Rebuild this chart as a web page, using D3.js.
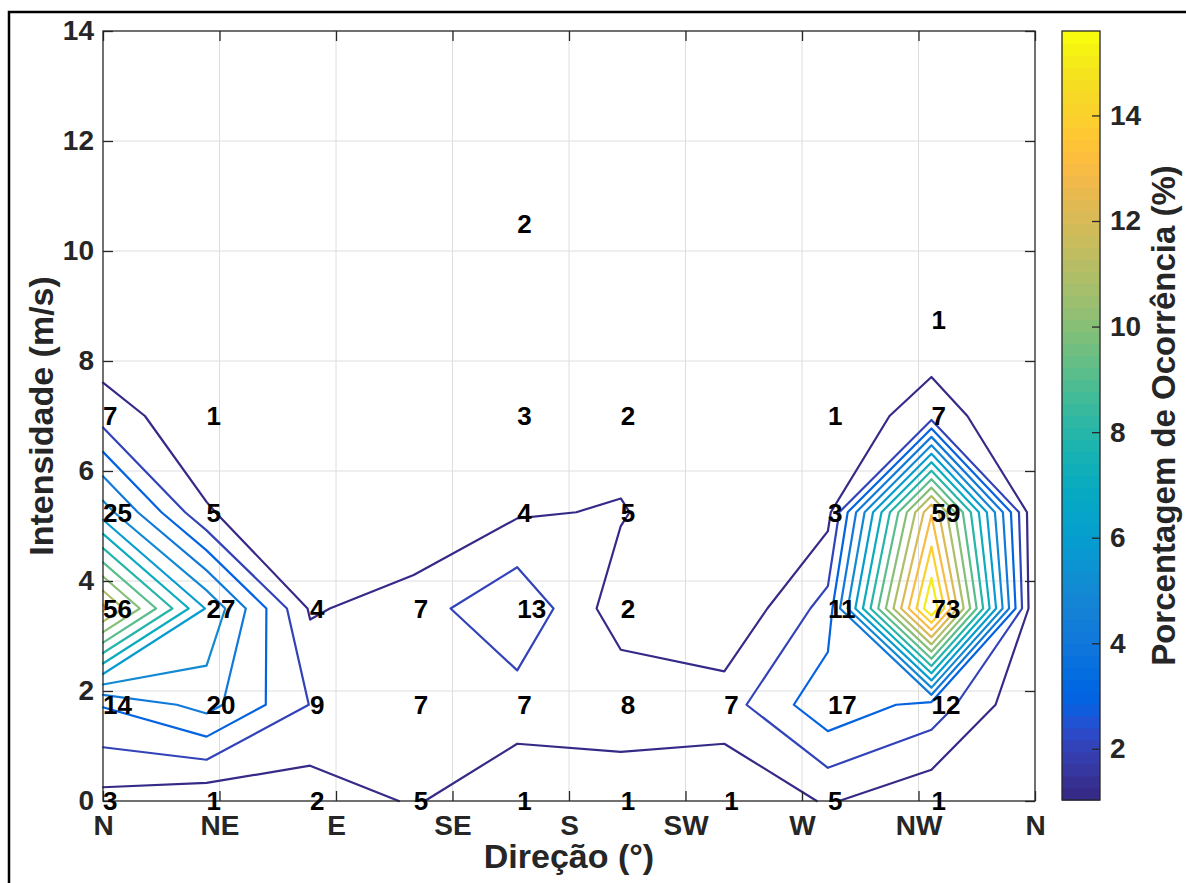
<!DOCTYPE html>
<html>
<head>
<meta charset="utf-8">
<script src="https://cdn.jsdelivr.net/npm/d3@7"></script>
<style>
  html, body { margin: 0; padding: 0; background: #fff; }
  svg { display: block; }
  text { font-family: "Liberation Sans", Arial, Helvetica, sans-serif; font-weight: bold; }
</style>
</head>
<body>
<svg id="chart" width="1186" height="883"></svg>
<script>
// Direction bins (degrees) and wind-speed bins (m/s) of the occurrence grid
const directions = [0, 40, 80, 120, 160, 200, 240, 280, 320, 360];
const speeds = [0, 1.75, 3.5, 5.25, 7, 8.75, 10.5, 12.25];

// Number of records per direction bin, one array per speed bin
const countsAt0 = [3, 1, 2, 5, 1, 1, 1, 5, 1, 0];
const countsAt175 = [14, 20, 9, 7, 7, 8, 7, 17, 12, 0];
const countsAt350 = [56, 27, 4, 7, 13, 2, 0, 11, 73, 0];
const countsAt525 = [25, 5, 0, 0, 4, 5, 0, 3, 59, 0];
const countsAt700 = [7, 1, 0, 0, 3, 2, 0, 1, 7, 0];
const countsAt875 = [0, 0, 0, 0, 0, 0, 0, 0, 1, 0];
const countsAt1050 = [0, 0, 0, 0, 2, 0, 0, 0, 0, 0];
const countsAt1225 = [0, 0, 0, 0, 0, 0, 0, 0, 0, 0];
const totalRecords = 457;

// Axis ticks
const xTickValues = [0, 45, 90, 135, 180, 225, 270, 315, 360];
const xTickLabels = ["N", "NE", "E", "SE", "S", "SW", "W", "NW", "N"];
const yTickValues = [0, 2, 4, 6, 8, 10, 12, 14];
const colorTickValues = [2, 4, 6, 8, 10, 12, 14];

// Contour levels (% of occurrence) and colour limits of the colour bar
const contourLevels = [1, 2, 3, 4, 5, 6, 7, 8, 9, 10, 11, 12, 13, 14, 15];
const colorLimits = [1.03, 15.6];

// parula, 64 entries
const parula = [
  [0.2081,0.1663,0.5292],[0.2116,0.1898,0.5777],[0.2123,0.2138,0.6270],[0.2081,0.2386,0.6771],
  [0.1959,0.2645,0.7279],[0.1707,0.2919,0.7792],[0.1253,0.3242,0.8303],[0.0591,0.3598,0.8683],
  [0.0117,0.3875,0.8820],[0.0060,0.4086,0.8828],[0.0165,0.4266,0.8786],[0.0329,0.4430,0.8720],
  [0.0498,0.4586,0.8641],[0.0629,0.4737,0.8554],[0.0723,0.4887,0.8467],[0.0779,0.5040,0.8384],
  [0.0793,0.5200,0.8312],[0.0749,0.5375,0.8263],[0.0641,0.5570,0.8240],[0.0488,0.5772,0.8228],
  [0.0343,0.5966,0.8199],[0.0265,0.6137,0.8135],[0.0239,0.6287,0.8038],[0.0231,0.6418,0.7913],
  [0.0228,0.6535,0.7768],[0.0267,0.6642,0.7607],[0.0384,0.6743,0.7436],[0.0590,0.6838,0.7254],
  [0.0843,0.6928,0.7062],[0.1133,0.7015,0.6859],[0.1453,0.7098,0.6646],[0.1801,0.7177,0.6424],
  [0.2178,0.7250,0.6193],[0.2586,0.7317,0.5954],[0.3022,0.7376,0.5712],[0.3482,0.7424,0.5473],
  [0.3953,0.7459,0.5244],[0.4420,0.7481,0.5033],[0.4871,0.7491,0.4840],[0.5300,0.7491,0.4661],
  [0.5709,0.7485,0.4494],[0.6099,0.7473,0.4337],[0.6473,0.7456,0.4188],[0.6834,0.7435,0.4044],
  [0.7184,0.7411,0.3905],[0.7525,0.7384,0.3768],[0.7858,0.7356,0.3633],[0.8185,0.7327,0.3498],
  [0.8507,0.7299,0.3360],[0.8824,0.7274,0.3217],[0.9139,0.7258,0.3063],[0.9450,0.7261,0.2886],
  [0.9739,0.7314,0.2666],[0.9938,0.7455,0.2403],[0.9990,0.7653,0.2164],[0.9955,0.7861,0.1967],
  [0.9880,0.8066,0.1794],[0.9789,0.8271,0.1633],[0.9697,0.8481,0.1475],[0.9626,0.8705,0.1309],
  [0.9589,0.8949,0.1132],[0.9598,0.9218,0.0948],[0.9661,0.9514,0.0755],[0.9763,0.9831,0.0538]
].map(c => d3.rgb(c[0] * 255, c[1] * 255, c[2] * 255).formatHex());

const countGrid = [countsAt0, countsAt175, countsAt350, countsAt525,
                   countsAt700, countsAt875, countsAt1050, countsAt1225];
const percentGrid = countGrid.map(row => row.map(c => c / totalRecords * 100));

function levelColor(v) {
  const t = (v - colorLimits[0]) / (colorLimits[1] - colorLimits[0]);
  const i = Math.max(0, Math.min(parula.length - 1, Math.floor(t * parula.length)));
  return parula[i];
}

// Marching squares: open/closed iso-lines in data coordinates
function isolines(grid, level) {
  const ny = grid.length, nx = grid[0].length;
  const segs = [];
  const cross = (i0, j0, i1, j1) => {
    const v0 = grid[j0][i0], v1 = grid[j1][i1];
    const t = (level - v0) / (v1 - v0);
    const key = i0 === i1 ? `v${i0}_${Math.min(j0, j1)}` : `h${Math.min(i0, i1)}_${j0}`;
    return {
      key,
      dir: directions[i0] + t * (directions[i1] - directions[i0]),
      spd: speeds[j0] + t * (speeds[j1] - speeds[j0])
    };
  };
  for (let j = 0; j < ny - 1; j++) {
    for (let i = 0; i < nx - 1; i++) {
      const a = grid[j][i], b = grid[j][i + 1], c = grid[j + 1][i + 1], d = grid[j + 1][i];
      const A = a >= level, B = b >= level, C = c >= level, D = d >= level;
      const e = [];
      if (A !== B) e[0] = cross(i, j, i + 1, j);
      if (B !== C) e[1] = cross(i + 1, j, i + 1, j + 1);
      if (C !== D) e[2] = cross(i + 1, j + 1, i, j + 1);
      if (D !== A) e[3] = cross(i, j + 1, i, j);
      const found = [0, 1, 2, 3].filter(k => e[k]);
      if (found.length === 2) {
        segs.push([e[found[0]], e[found[1]]]);
      } else if (found.length === 4) {
        const centreHigh = (a + b + c + d) / 4 >= level;
        if ((A && C) === centreHigh) segs.push([e[0], e[1]], [e[2], e[3]]);
        else segs.push([e[3], e[0]], [e[1], e[2]]);
      }
    }
  }
  const byKey = new Map();
  segs.forEach((s, idx) => s.forEach(p => {
    if (!byKey.has(p.key)) byKey.set(p.key, []);
    byKey.get(p.key).push(idx);
  }));
  const minDeg = idx => Math.min(byKey.get(segs[idx][0].key).length, byKey.get(segs[idx][1].key).length);
  const order = segs.map((s, i) => i).sort((p, q) => minDeg(p) - minDeg(q));
  const used = new Array(segs.length).fill(false);
  const lines = [];
  for (const idx of order) {
    if (used[idx]) continue;
    used[idx] = true;
    const s = segs[idx];
    const line = byKey.get(s[1].key).length === 1 ? [s[1], s[0]] : [s[0], s[1]];
    let cur = line[line.length - 1];
    for (;;) {
      const next = byKey.get(cur.key).find(k => !used[k]);
      if (next === undefined) break;
      used[next] = true;
      const ns = segs[next];
      const np = ns[0].key === cur.key ? ns[1] : ns[0];
      line.push(np);
      cur = np;
    }
    lines.push(line);
  }
  return lines;
}

const svg = d3.select("#chart");
const plot = { left: 103, right: 1035, top: 31, bottom: 801 };
const cbar = { left: 1062, right: 1100, top: 31, bottom: 800 };
const axisColor = "#262626";

const x = d3.scaleLinear().domain([0, 360]).range([plot.left, plot.right]);
const y = d3.scaleLinear().domain([0, 14]).range([plot.bottom, plot.top]);
const cScale = d3.scaleLinear().domain(colorLimits).range([cbar.bottom, cbar.top]);

// Figure frame
svg.append("path")
  .attr("d", "M9,900 L9,12 L1200,12")
  .attr("fill", "none").attr("stroke", "#000").attr("stroke-width", 2.5);

// Axes background and grid
svg.append("rect")
  .attr("x", plot.left).attr("y", plot.top)
  .attr("width", plot.right - plot.left).attr("height", plot.bottom - plot.top)
  .attr("fill", "#fff");

const grid = svg.append("g").attr("stroke", "#dedede").attr("stroke-width", 1);
grid.selectAll("line.gx").data(xTickValues.slice(1, -1)).join("line")
  .attr("x1", d => x(d)).attr("x2", d => x(d))
  .attr("y1", plot.top).attr("y2", plot.bottom);
grid.selectAll("line.gy").data(yTickValues.slice(1, -1)).join("line")
  .attr("x1", plot.left).attr("x2", plot.right)
  .attr("y1", d => y(d)).attr("y2", d => y(d));

// Contour lines
const lineGen = d3.line().x(p => x(p.dir)).y(p => y(p.spd));
const contourG = svg.append("g")
  .attr("fill", "none").attr("stroke-width", 2.2)
  .attr("stroke-linejoin", "round").attr("stroke-linecap", "round");
contourLevels.forEach(level => {
  isolines(percentGrid, level).forEach(line => {
    contourG.append("path")
      .attr("d", lineGen(line))
      .attr("stroke", levelColor(level));
  });
});

// Axes with inward ticks
function styleAxis(g) {
  g.select(".domain").remove();
  g.selectAll(".tick line").attr("stroke", axisColor).attr("stroke-width", 1.3);
  g.selectAll(".tick text").attr("fill", axisColor).attr("font-size", 28)
    .attr("font-family", "'Liberation Sans', Arial, Helvetica, sans-serif").attr("font-weight", "bold");
}
svg.append("g").attr("transform", `translate(0,${plot.bottom})`)
  .call(d3.axisBottom(x).tickValues(xTickValues).tickFormat((d, i) => xTickLabels[i])
    .tickSizeInner(-10).tickSizeOuter(0).tickPadding(14))
  .call(styleAxis);
svg.append("g").attr("transform", `translate(0,${plot.top})`)
  .call(d3.axisTop(x).tickValues(xTickValues).tickFormat("").tickSizeInner(-10).tickSizeOuter(0))
  .call(styleAxis);
svg.append("g").attr("transform", `translate(${plot.left},0)`)
  .call(d3.axisLeft(y).tickValues(yTickValues).tickSizeInner(-10).tickSizeOuter(0).tickPadding(9))
  .call(styleAxis);
svg.append("g").attr("transform", `translate(${plot.right},0)`)
  .call(d3.axisRight(y).tickValues(yTickValues).tickFormat("").tickSizeInner(-10).tickSizeOuter(0))
  .call(styleAxis);

svg.append("rect")
  .attr("x", plot.left).attr("y", plot.top)
  .attr("width", plot.right - plot.left).attr("height", plot.bottom - plot.top)
  .attr("fill", "none").attr("stroke", axisColor).attr("stroke-width", 1.3);

// Record counts printed at each bin
const cells = [];
countGrid.forEach((row, j) => row.forEach((c, i) => {
  if (c > 0) cells.push({ dir: directions[i], spd: speeds[j], count: c });
}));
svg.append("g").selectAll("text").data(cells).join("text")
  .attr("x", d => x(d.dir)).attr("y", d => y(d.spd))
  .attr("dy", "0.36em")
  .attr("font-size", 26).attr("fill", "#000")
  .text(d => d.count);

// Axis titles
svg.append("text")
  .attr("x", (plot.left + plot.right) / 2).attr("y", 868)
  .attr("text-anchor", "middle").attr("font-size", 34).attr("fill", axisColor)
  .text("Direção (°)");
svg.append("text")
  .attr("transform", `translate(53,${(plot.top + plot.bottom) / 2}) rotate(-90)`)
  .attr("text-anchor", "middle").attr("font-size", 34).attr("fill", axisColor)
  .text("Intensidade (m/s)");

// Colour bar
const nBands = parula.length;
const bandStep = (colorLimits[1] - colorLimits[0]) / nBands;
svg.append("g").selectAll("rect").data(parula).join("rect")
  .attr("x", cbar.left).attr("width", cbar.right - cbar.left)
  .attr("y", (d, i) => cScale(colorLimits[0] + (i + 1) * bandStep))
  .attr("height", (d, i) => cScale(colorLimits[0] + i * bandStep) - cScale(colorLimits[0] + (i + 1) * bandStep) + 0.6)
  .attr("fill", d => d);
svg.append("g").attr("transform", `translate(${cbar.right},0)`)
  .call(d3.axisRight(cScale).tickValues(colorTickValues).tickSizeInner(-8).tickSizeOuter(0).tickPadding(10))
  .call(styleAxis);
svg.append("rect")
  .attr("x", cbar.left).attr("y", cbar.top)
  .attr("width", cbar.right - cbar.left).attr("height", cbar.bottom - cbar.top)
  .attr("fill", "none").attr("stroke", axisColor).attr("stroke-width", 1.3);
svg.append("text")
  .attr("transform", `translate(1175,${(cbar.top + cbar.bottom) / 2}) rotate(-90)`)
  .attr("text-anchor", "middle").attr("font-size", 33).attr("fill", axisColor)
  .text("Porcentagem de Ocorrência (%)");
</script>
</body>
</html>
